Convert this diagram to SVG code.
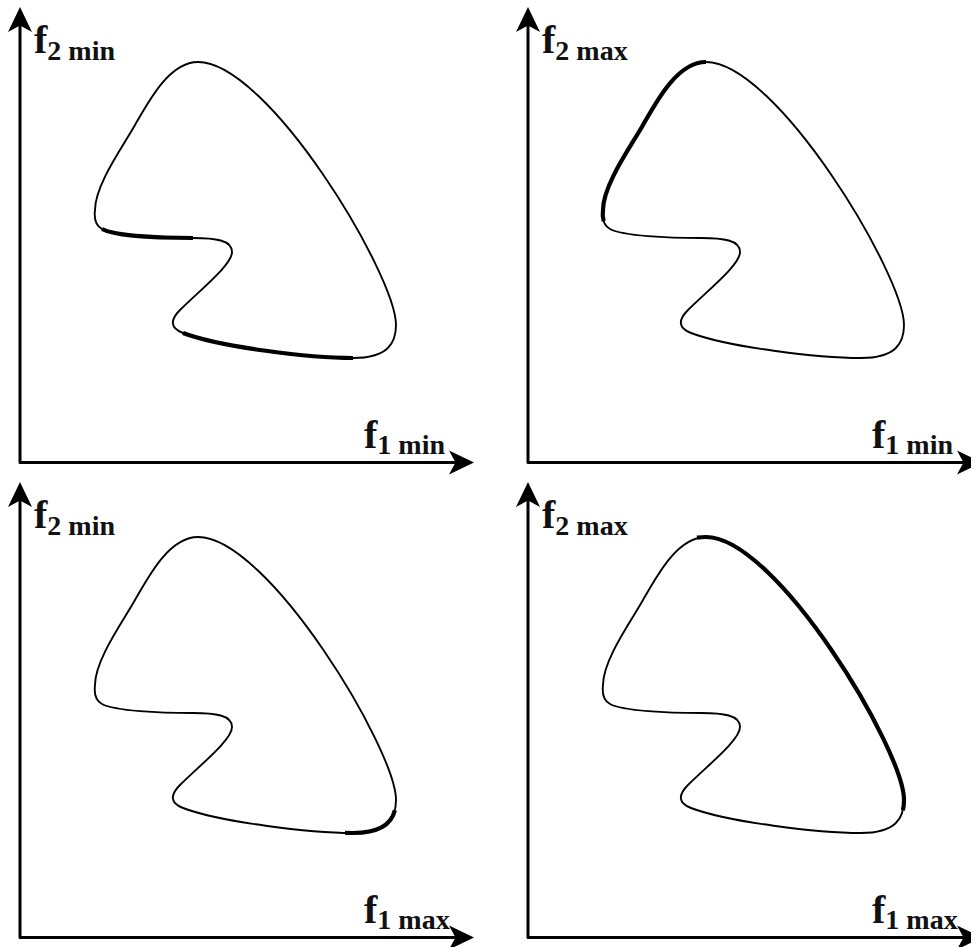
<svg xmlns="http://www.w3.org/2000/svg" width="971" height="947" viewBox="0 0 971 947">
<style>
  .axis { fill: none; stroke: #000; stroke-width: 3; stroke-linejoin: round; }
  .head { fill: #000; stroke: none; }
  .curve { fill: none; stroke: #000; stroke-width: 1.9; stroke-linejoin: round; }
  .thick { fill: none; stroke: #000; stroke-width: 4.2; stroke-linecap: butt; }
  .lbl { font-family: "Liberation Serif", "Times New Roman", serif; font-weight: bold; fill: #111; }
  .big { font-size: 40px; }
  .sub { font-size: 28px; }
</style>
<defs>
  <path id="outline" d="M198,62 C268,62 396,275 396,325 C396,343 388,358 353,358 C310,358 220,347 183,333 C170,328 170,320 180,310 C200,290 232,265 232,252 C232,240 215,238 193,238 C160,238 115,236 102,229 C95.5,225.5 94,218 95,210 C95,185 122.7,146.75 135,125 C149.8,98.9 170,62 198,62 Z"/>
  <g id="axes">
    <path class="axis" d="M20,24 L20,462.5 L460,462.5"/>
    <path class="head" d="M20,7 L32,32 L20,25.5 L8,32 Z"/>
    <path class="head" d="M474,462.5 L449,450.5 L455.5,462.5 L449,474.5 Z"/>
  </g>
</defs>

<g id="panel-top-left">
  <use href="#axes"/>
  <use href="#outline" class="curve"/>
  <path class="thick" d="M193,238 C160,238 115,236 102,229"/>
  <path class="thick" d="M353,358 C310,358 220,347 183,333"/>
  <text class="lbl" x="34" y="53"><tspan class="big">f</tspan><tspan class="sub" dy="7">2 min</tspan></text>
  <text class="lbl" x="364" y="448"><tspan class="big">f</tspan><tspan class="sub" dy="6">1 min</tspan></text>
</g>

<g id="panel-top-right" transform="translate(508,0)">
  <use href="#axes"/>
  <use href="#outline" class="curve"/>
  <path class="thick" d="M95.69,221.19 C94.625,217.875 94.5,214 95,210 C95,185 122.7,146.75 135,125 C149.8,98.9 170,62 198,62"/>
  <text class="lbl" x="34" y="53"><tspan class="big">f</tspan><tspan class="sub" dy="7">2 max</tspan></text>
  <text class="lbl" x="364" y="448"><tspan class="big">f</tspan><tspan class="sub" dy="6">1 min</tspan></text>
</g>

<g id="panel-bottom-left" transform="translate(0,475)">
  <use href="#axes"/>
  <use href="#outline" class="curve"/>
  <path class="thick" d="M394.89,335.34 C391.72,348.4 381,358 353,358 L345,357.9"/>
  <text class="lbl" x="34" y="53"><tspan class="big">f</tspan><tspan class="sub" dy="7">2 min</tspan></text>
  <text class="lbl" x="364" y="448"><tspan class="big">f</tspan><tspan class="sub" dy="6">1 max</tspan></text>
</g>

<g id="panel-bottom-right" transform="translate(508,475)">
  <use href="#axes"/>
  <use href="#outline" class="curve"/>
  <path class="thick" d="M189,62.6 Q194,62 198,62 C268,62 396,275 396,325 C396,328.6 395.68,332.08 394.89,335.34"/>
  <text class="lbl" x="34" y="53"><tspan class="big">f</tspan><tspan class="sub" dy="7">2 max</tspan></text>
  <text class="lbl" x="364" y="448"><tspan class="big">f</tspan><tspan class="sub" dy="6">1 max</tspan></text>
</g>
</svg>
